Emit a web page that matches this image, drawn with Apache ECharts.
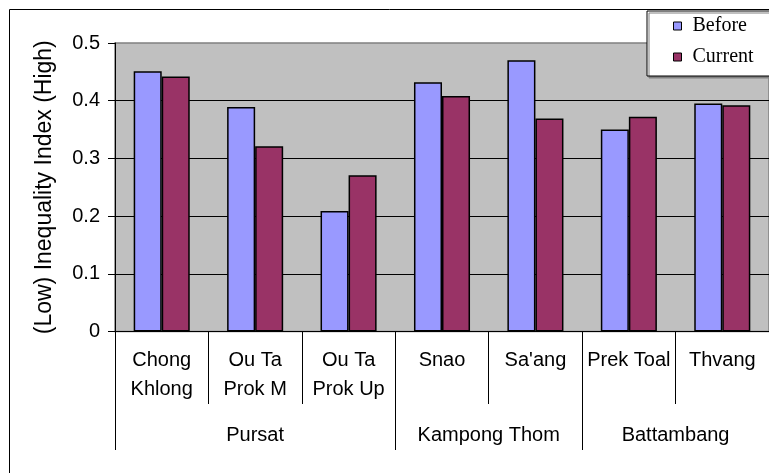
<!DOCTYPE html>
<html>
<head>
<meta charset="utf-8">
<script src="https://cdn.jsdelivr.net/npm/echarts@6/dist/echarts.min.js"></script>
<style>
html,body{margin:0;padding:0;background:#fff;}
#chart{width:769px;height:473px;}
</style>
</head>
<body>
<div id="chart"></div>
<script>
const villages = ['Chong\nKhlong', 'Ou Ta\nProk M', 'Ou Ta\nProk Up', 'Snao', "Sa'ang", 'Prek Toal', 'Thvang'];
const provinces = ['Pursat', 'Kampong Thom', 'Battambang'];
const provinceSpans = [3, 2, 2];
const beforeValues = [0.451, 0.389, 0.209, 0.432, 0.470, 0.350, 0.395];
const currentValues = [0.442, 0.321, 0.271, 0.408, 0.369, 0.372, 0.392];
const yTicks = [0, 0.1, 0.2, 0.3, 0.4, 0.5];

// group boundaries and centers derived from spans
const bounds = [0];
provinceSpans.forEach(s => bounds.push(bounds[bounds.length - 1] + s));
const centers = provinceSpans.map((s, i) => bounds[i] + s / 2);

const chart = echarts.init(document.getElementById('chart'), null, {renderer: 'canvas'});
const sans = 'Liberation Sans, Arial, sans-serif';
const serif = 'Liberation Serif, Times New Roman, serif';

chart.setOption({
  animation: false,
  backgroundColor: '#fff',
  graphic: [{
    type: 'rect',
    shape: {x: 9.5, y: 9.5, width: 820, height: 520},
    style: {fill: null, stroke: '#000', lineWidth: 1},
    z: -10,
    silent: true
  }],
  legend: {
    data: ['Before', 'Current'],
    orient: 'vertical',
    left: 647,
    top: 11,
    padding: [4, 40, 8, 26],
    itemGap: 9,
    itemWidth: 8,
    itemHeight: 8,
    icon: 'rect',
    backgroundColor: '#fff',
    borderColor: '#000',
    borderWidth: 1,
    shadowColor: '#808080',
    shadowOffsetX: 2,
    shadowOffsetY: 2,
    shadowBlur: 0,
    itemStyle: {borderColor: '#000', borderWidth: 1},
    textStyle: {fontFamily: serif, fontSize: 20, color: '#000', lineHeight: 22, padding: [0, 0, 0, 6]}
  },
  grid: {
    left: 115,
    top: 43,
    right: -13,
    bottom: 141.5,
    show: true,
    backgroundColor: '#c0c0c0',
    borderColor: '#808080',
    borderWidth: 1.5
  },
  xAxis: [{
    type: 'category',
    position: 'bottom',
    data: villages,
    axisLine: {show: true, lineStyle: {color: '#000', width: 1}},
    axisTick: {show: true, interval: 0, length: 72.5, lineStyle: {color: '#000', width: 1}},
    axisLabel: {interval: 0, margin: 15, fontFamily: sans, fontSize: 20, lineHeight: 28.6, color: '#000'},
    splitLine: {show: false}
  }, {
    type: 'value',
    position: 'bottom',
    min: 0,
    max: bounds[bounds.length - 1],
    axisLine: {show: false},
    axisTick: {show: true, customValues: bounds, length: 118.5, lineStyle: {color: '#000', width: 1}},
    axisLabel: {
      show: true,
      customValues: centers,
      margin: 89.5,
      fontFamily: sans, fontSize: 20, lineHeight: 28, color: '#000',
      formatter: function (v) {
        const i = centers.indexOf(v);
        return i >= 0 ? provinces[i] : '';
      }
    },
    splitLine: {show: false}
  }],
  yAxis: {
    type: 'value',
    min: yTicks[0],
    max: yTicks[yTicks.length - 1],
    interval: 0.1,
    name: '(Low) Inequality Index (High)',
    nameLocation: 'middle',
    nameGap: 59,
    nameTextStyle: {fontFamily: sans, fontSize: 23, color: '#000'},
    axisLine: {show: true, lineStyle: {color: '#000', width: 1}},
    axisTick: {show: true, length: 7, lineStyle: {color: '#000', width: 1}},
    axisLabel: {margin: 15, fontFamily: sans, fontSize: 20, color: '#000',
      formatter: v => (v === 0 ? '0' : v.toFixed(1))},
    splitLine: {show: true, showMaxLine: false, lineStyle: {color: '#000', width: 1}}
  },
  series: [{
    name: 'Before',
    type: 'bar',
    xAxisIndex: 0,
    data: beforeValues,
    barCategoryGap: '40%',
    barGap: '0%',
    itemStyle: {color: '#9999ff', borderColor: '#000', borderWidth: 1.5}
  }, {
    name: 'Current',
    type: 'bar',
    xAxisIndex: 0,
    data: currentValues,
    barCategoryGap: '40%',
    barGap: '0%',
    itemStyle: {color: '#993366', borderColor: '#000', borderWidth: 1.5}
  }]
});
</script>
</body>
</html>
